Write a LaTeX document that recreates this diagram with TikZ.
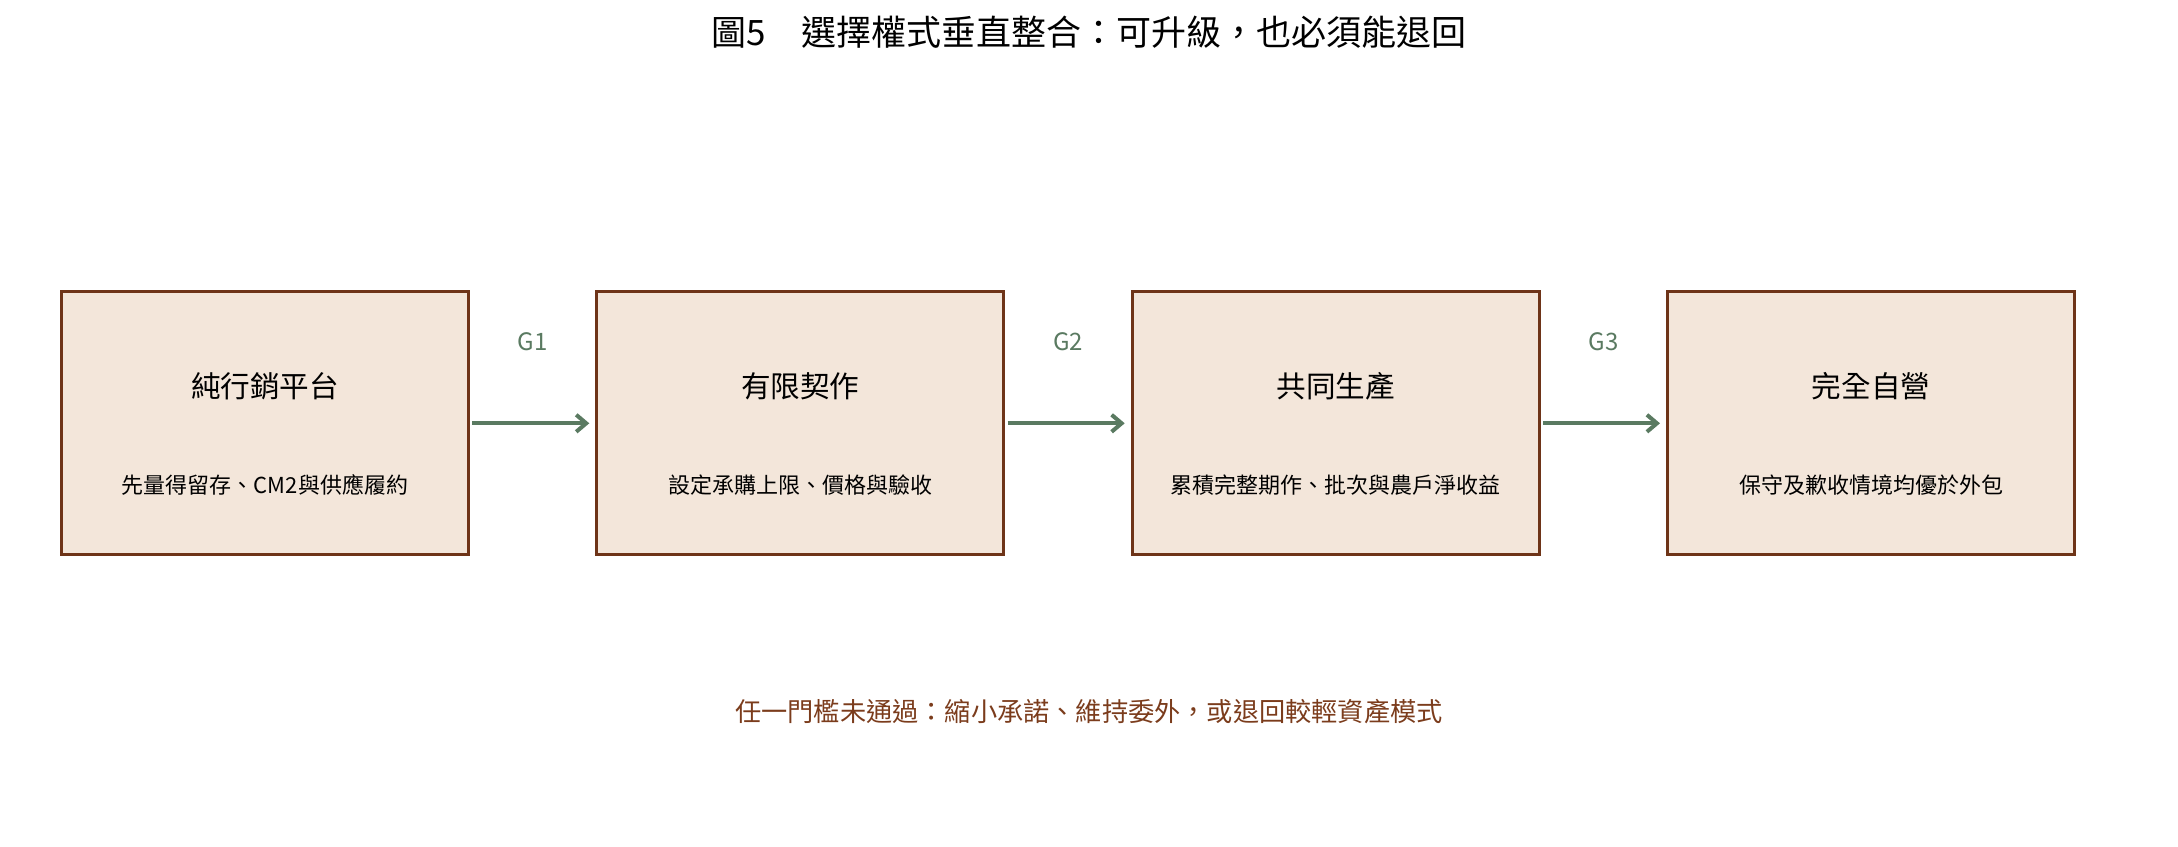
\documentclass[tikz,border=0pt]{standalone}
\usepackage{fontspec}
\setmainfont{Noto Sans CJK TC}
\usetikzlibrary{arrows.meta}

\definecolor{stagefill}{HTML}{F3E6DA}
\definecolor{stageline}{HTML}{6E3418}
\definecolor{gategreen}{HTML}{5A7A61}
\definecolor{notebrown}{HTML}{7B3C1C}

\tikzset{
    stage/.style={draw=stageline, fill=stagefill, line width=1.5pt,
        minimum width=203.5pt, minimum height=131.5pt, inner sep=0pt},
    stagetitle/.style={align=center, font=\fontsize{14.8pt}{17pt}\selectfont},
    stagenote/.style={align=center, font=\fontsize{11pt}{13pt}\selectfont},
    gatelabel/.style={text=gategreen, font=\fontsize{12pt}{14pt}\selectfont},
    gate/.style={draw=gategreen, line width=2pt, shorten <=1.2pt, shorten >=3pt,
        -{Straight Barb[length=5pt, width=8.5pt]}},
}

\begin{document}
\begin{tikzpicture}[x=0.5pt, y=0.5pt]
        \useasboundingbox (0, 0) rectangle (2178, 846);
        \node[font=\fontsize{17.5pt}{21pt}\selectfont] (title) at (1089, 814) {圖5　選擇權式垂直整合：可升級，也必須能退回};

        \node[stage] (s1) at (265, 422.7) {};
        \node[stage] (s2) at (800.3, 422.7) {};
        \node[stage] (s3) at (1335.7, 422.7) {};
        \node[stage] (s4) at (1871, 422.7) {};

        \node[stagetitle] (t1) at (265, 460) {純行銷平台};
        \node[stagetitle] (t2) at (800.3, 460) {有限契作};
        \node[stagetitle] (t3) at (1335.7, 460) {共同生產};
        \node[stagetitle] (t4) at (1871, 460) {完全自營};

        \node[stagenote] (n1) at (265, 361) {先量得留存、CM2與供應履約};
        \node[stagenote] (n2) at (800.3, 361) {設定承購上限、價格與驗收};
        \node[stagenote] (n3) at (1335.7, 361) {累積完整期作、批次與農戶淨收益};
        \node[stagenote] (n4) at (1871, 361) {保守及歉收情境均優於外包};

        \draw[gate] (s1) -- (s2);
        \draw[gate] (s2) -- (s3);
        \draw[gate] (s3) -- (s4);
        \node[gatelabel] (g1) at (532.6, 504) {G1};
        \node[gatelabel] (g2) at (1068, 504) {G2};
        \node[gatelabel] (g3) at (1603.5, 504) {G3};

        \node[text=notebrown, font=\fontsize{13.1pt}{16pt}\selectfont] (exit) at (1089, 134) {任一門檻未通過：縮小承諾、維持委外，或退回較輕資產模式};
    \end{tikzpicture}
\end{document}
